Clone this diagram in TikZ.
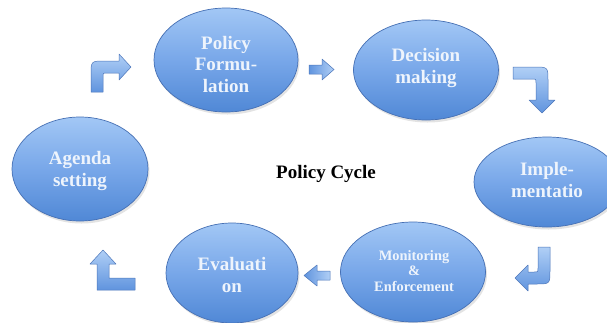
\documentclass[tikz,border=0pt]{standalone}
\usepackage{fontspec}
\setmainfont{Liberation Serif}
\usetikzlibrary{shapes.geometric,shadows}

\definecolor{ellTop}{RGB}{162,199,245}
\definecolor{ellMid}{RGB}{120,167,233}
\definecolor{ellBot}{RGB}{80,136,214}
\definecolor{ellEdge}{RGB}{70,112,180}
\definecolor{stageText}{RGB}{238,244,252}
\definecolor{arrLight}{RGB}{176,207,246}
\definecolor{arrDark}{RGB}{96,148,222}
\definecolor{arrEdge}{RGB}{76,118,186}

\tikzset{
  stage/.style={ellipse, draw=ellEdge, line width=0.7pt,
    top color=ellTop, bottom color=ellBot, middle color=ellMid,
    inner sep=0pt,
    drop shadow={opacity=0.22, shadow xshift=1.5pt, shadow yshift=-2.5pt}},
  stagelabel/.style={text=stageText, font=\bfseries\fontsize{19}{21.5}\selectfont,
    align=center, inner sep=0pt},
  smalllabel/.style={text=stageText, font=\bfseries\fontsize{14.4}{15.6}\selectfont,
    align=center, inner sep=0pt},
  blockarrow/.style={draw=arrEdge, line width=0.5pt, line join=round,
    top color=arrLight, bottom color=arrDark},
  sidearrow/.style={draw=arrEdge, line width=0.5pt, line join=round,
    left color=arrDark, right color=arrLight}
}

\begin{document}
\begin{tikzpicture}[x=1pt, y=-1pt]
  \useasboundingbox (0,0) rectangle (607,322);
  \clip (0,0) rectangle (607,322);
  \fill[white] (0,0) rectangle (607,322);

  % stages of the cycle
  \node[stage, minimum width=136pt, minimum height=104pt] (agenda) at (80,169) {};
  \node[stage, minimum width=144pt, minimum height=104pt] (form)   at (226,60) {};
  \node[stage, minimum width=145pt, minimum height=100pt] (decide) at (426,70) {};
  \node[stage, minimum width=146pt, minimum height=90pt]  (impl)   at (547,182) {};
  \node[stage, minimum width=145pt, minimum height=100pt] (monitor) at (413,272) {};
  \node[stage, minimum width=132pt, minimum height=100pt] (eval)   at (232,273) {};

  % stage names
  \node[stagelabel] (agenda-t)  at (80,171)  {Agenda\\setting};
  \node[stagelabel] (form-t)    at (226,64)  {Policy\\Formu-\\lation};
  \node[stagelabel] (decide-t)  at (426,68)  {Decision\\making};
  \node[stagelabel] (impl-t)    at (547,180) {Imple-\\mentatio};
  \node[smalllabel] (monitor-t) at (414,271) {Monitoring\\\&\\Enforcement};
  \node[stagelabel] (eval-t)    at (232,275) {Evaluati\\on};

  % centre title
  \node[font=\bfseries\fontsize{19}{21}\selectfont] (title) at (326,174) {Policy Cycle};

  % agenda -> formulation: up, then right
  \path[blockarrow] (91,92) -- (91,75) .. controls (91,61) .. (105,61) -- (119,61)
    -- (119,54) -- (131,67) -- (119,80) -- (119,73) -- (107,73)
    .. controls (103,73) .. (103,77) -- (103,92) -- cycle;

  % formulation -> decision
  \path[sidearrow] (309,65) -- (322,65) -- (322,59) -- (334,69.5) -- (322,80)
    -- (322,74) -- (309,74) -- cycle;

  % decision -> implementation: right, then down
  \path[blockarrow] (513,67) -- (534,67) .. controls (548,67) .. (548,81) -- (548,100)
    -- (555,100) -- (542,113) -- (529,100) -- (536,100) -- (536,83)
    .. controls (536,79) .. (532,79) -- (513,79) -- cycle;

  % implementation -> monitoring: down, then left
  \path[blockarrow] (538,247) -- (550,247) -- (550,270) .. controls (550,284) .. (536,284)
    -- (528,284) -- (528,291) -- (515,278) -- (528,265) -- (528,272) -- (534,272)
    .. controls (538,272) .. (538,268) -- cycle;

  % monitoring -> evaluation
  \path[sidearrow] (330,271) -- (317,271) -- (317,265) -- (304,275.5) -- (317,286)
    -- (317,280) -- (330,280) -- cycle;

  % evaluation -> agenda: left, then up
  \path[blockarrow] (135,278) -- (109,278) -- (109,264) -- (116,264) -- (103,250)
    -- (90,264) -- (97,264) -- (97,290) -- (135,290) -- cycle;
\end{tikzpicture}
\end{document}
